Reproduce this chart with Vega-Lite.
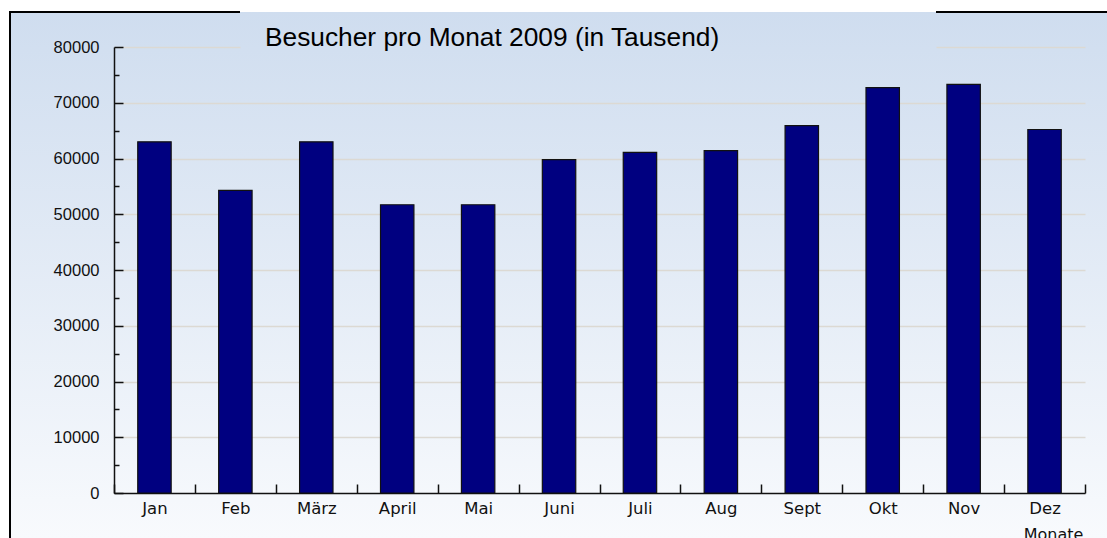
{
  "$schema": "https://vega.github.io/schema/vega-lite/v6.json",
  "width": 1097,
  "height": 526,
  "autosize": {"type": "none"},
  "padding": {"left": 10, "top": 12, "right": 0, "bottom": 0},
  "background": "white",
  "title": {
    "text": "Besucher pro Monat 2009 (in Tausend)",
    "anchor": "start",
    "frame": "group",
    "font": "Liberation Sans",
    "fontSize": 26.3,
    "fontWeight": "normal",
    "color": "#000000",
    "baseline": "alphabetic",
    "offset": 0,
    "dx": 255,
    "dy": 60
  },
  "config": {
    "view": {
      "fill": {
        "gradient": "linear",
        "x1": 0, "y1": 0, "x2": 0, "y2": 1,
        "stops": [
          {"offset": 0, "color": "#CFDDEF"},
          {"offset": 1, "color": "#F8FAFD"}
        ]
      },
      "stroke": "#000000",
      "strokeWidth": 2,
      "strokeDash": [230, 696, 171, 1623, 526]
    }
  },
  "data": {
    "values": [
      {"Monat": "Jan", "Besucher": 63000},
      {"Monat": "Feb", "Besucher": 54300},
      {"Monat": "März", "Besucher": 63000},
      {"Monat": "April", "Besucher": 51700},
      {"Monat": "Mai", "Besucher": 51700},
      {"Monat": "Juni", "Besucher": 59800},
      {"Monat": "Juli", "Besucher": 61100},
      {"Monat": "Aug", "Besucher": 61400},
      {"Monat": "Sept", "Besucher": 65900},
      {"Monat": "Okt", "Besucher": 72700},
      {"Monat": "Nov", "Besucher": 73300},
      {"Monat": "Dez", "Besucher": 65200}
    ]
  },
  "mark": {"type": "bar", "fill": "#000080", "stroke": "#111111", "strokeWidth": 1.2, "width": {"band": 0.413}},
  "encoding": {
    "x": {
      "field": "Monat",
      "type": "nominal",
      "sort": null,
      "scale": {"range": [104, 1075], "paddingInner": 0, "paddingOuter": 0, "round": false},
      "axis": {
        "orient": "bottom",
        "offset": -45,
        "tickBand": "extent",
        "tickSize": -9,
        "tickColor": "#111111",
        "tickWidth": 1.5,
        "domainColor": "#111111",
        "domainWidth": 1.5,
        "labelAngle": 0,
        "labelFont": "DejaVu Sans",
        "labelFontSize": 16.5,
        "labelColor": "#111111",
        "labelPadding": 16,
        "title": "Monate",
        "titleFont": "DejaVu Sans",
        "titleFontSize": 16,
        "titleFontWeight": "normal",
        "titleColor": "#111111",
        "titleX": 1043,
        "titleY": 46,
        "titleAlign": "center",
        "titleBaseline": "alphabetic",
        "grid": false
      }
    },
    "y": {
      "field": "Besucher",
      "type": "quantitative",
      "scale": {"domain": [0, 80000], "range": [481, 35], "nice": false, "zero": true},
      "axis": {
        "orient": "left",
        "offset": -104,
        "values": [0, 5000, 10000, 15000, 20000, 25000, 30000, 35000, 40000, 45000, 50000, 55000, 60000, 65000, 70000, 75000, 80000],
        "format": "d",
        "labelExpr": "datum.value % 10000 === 0 ? datum.label : ''",
        "tickSize": {"condition": {"test": "datum.value % 10000 === 0", "value": -9}, "value": -5},
        "tickColor": "#111111",
        "tickWidth": 1.5,
        "domainColor": "#111111",
        "domainWidth": 1.5,
        "labelFont": "Liberation Sans",
        "labelFontSize": 16.5,
        "labelColor": "#111111",
        "labelPadding": 24,
        "title": null,
        "grid": true,
        "gridColor": {"condition": {"test": "datum.value % 10000 === 0 && datum.value > 0", "value": "#DCD9D3"}, "value": "transparent"},
        "gridWidth": 1.5,
        "gridDash": {"condition": {"test": "datum.value === 80000", "value": [126, 696, 300]}, "value": []}
      }
    }
  }
}
